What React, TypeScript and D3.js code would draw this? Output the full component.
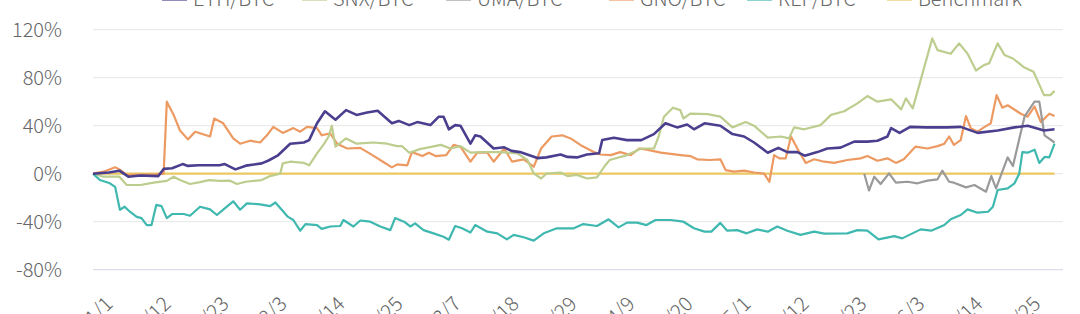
import React from "react";
import * as d3 from "d3";

type Pt = [number, number];

// day offset from 2020-01-01, value in %
const ethBtc: Pt[] = [[0,0],[3,1],[5,2.5],[6.7,-2.5],[9,-1.5],[12.4,-2],[13.4,4],[15,4.5],[17,8],[18,6.5],[20,7],[24,7],[25,8],[27,3.6],[29,6.7],[32,8.6],[33.3,11],[35,15],[37.4,25],[40,26],[41,28],[42.5,42],[44,52],[46,45],[48,53],[50,49],[52,51],[54,52.5],[56.7,42],[58,44],[60,40.5],[61.5,43],[64,40.5],[65.6,47.5],[66.5,47.5],[67.5,37],[68.7,40.5],[69.7,40],[71.6,25],[72.5,32],[73.5,31],[76,21],[78,22],[79.4,19],[81,18],[84.3,13],[86,13.6],[88.7,16],[90,14],[91.8,13.6],[93.7,16],[96,17],[96.6,28],[98.8,30],[101.3,28],[104,28],[106.4,33],[108.6,42],[110.8,38.6],[112.7,41],[114,37],[116,42],[119,40],[121.3,33],[123.5,31],[125.4,26],[128,17.5],[130,21.5],[131.7,18],[133.6,18],[135,15],[137.4,18],[139.3,21],[141.8,21.7],[144.4,26.7],[146.9,26.7],[148.8,27.5],[150.7,31],[151.4,38],[153,34],[155,39],[158,38.6],[162,38.6],[164.6,39],[167.8,34],[171.6,36],[174.8,38.6],[177.3,40],[180.4,36],[182.4,37]];

const snxBtc: Pt[] = [[0,0],[2,-2.5],[5,-2.5],[6.4,-9.4],[9,-9.4],[11.5,-7.5],[14,-6],[15.3,-2.5],[16.5,-5.3],[18.4,-8.6],[20.3,-7],[22,-5.3],[24,-6],[26,-5.8],[27.3,-8.6],[29,-6.7],[32,-5.3],[33.6,-2],[35.5,0],[36,8.6],[37.4,10],[40,9],[41,7],[42.5,17],[43.7,24],[44.7,31],[45.3,40],[46,22.5],[48,29.4],[50,25],[53.2,26],[55.8,25],[57.7,23],[58.6,23],[60,17.5],[62,20.5],[66,24],[67.8,21],[69.7,23],[71.6,17.5],[73.5,18],[77.3,18],[80.5,17],[82.4,11.4],[83.6,0.3],[85,-4],[86,0],[88.7,1],[90,-2],[91.8,-1],[93.7,-4],[95.6,-3],[97,6],[98,11.4],[101.3,15.5],[104,21],[106.4,21],[107.3,31],[108.3,47.5],[110,55],[111.4,53],[112,46],[113.3,50],[116.6,49.7],[119,47.5],[121.3,38.6],[123.8,43],[125.4,40],[128,30],[130.5,31],[132,29.4],[133,38.6],[134.9,37],[138,40.5],[140,49],[142.5,52],[145,58.6],[146.9,64.7],[148.8,60],[151.4,62],[153.3,53.6],[154.2,62.8],[155.5,54.4],[157,78],[159.2,112.8],[160.2,103],[162.7,100],[164.3,108.6],[165.9,100],[167.5,86],[169,90.5],[170,92],[171.6,108.6],[172.9,99],[174.5,96],[176.5,89],[178.4,85],[180.4,65.5],[181.6,65.5],[182.4,69]];

const umaBtc: Pt[] = [[146.3,0],[147.2,-14],[148.2,-2.5],[149.4,-8.6],[151,0.3],[152.3,-7.5],[154.5,-6.7],[156.4,-8],[158.3,-5.8],[160.2,-4.7],[161.1,2.5],[162.4,-6.7],[163.3,-7.5],[165.6,-11.4],[167.2,-9.4],[169.4,-15],[170.4,-2],[171.3,-12.2],[173.5,13.6],[174.5,6.4],[176.7,47.5],[178.6,60],[179.5,60],[180.5,32],[182.4,26]];

const gnoBtc: Pt[] = [[0,0],[2,1.7],[4.2,5.3],[5,3.6],[6.4,-1],[12,-0.5],[13.4,0],[14,60],[15.3,49],[16.5,36],[18,28.6],[19.4,35],[22.2,31],[23,46],[24.7,42],[26.6,29.4],[27.9,25],[29.8,27.5],[31.7,26],[33,32],[34.2,39],[36,34],[38,38],[39.3,35],[40.6,39],[42.5,38],[43.4,32],[45,33.6],[46.3,25],[48.2,21],[50.7,21.5],[53,15.5],[55,10],[56.7,5.3],[57.7,7.8],[59.6,7],[60.5,18],[62.5,14.7],[63.7,17.5],[65,14.7],[67,15.5],[68.4,24],[69.7,22.5],[71.6,10],[72.9,17.5],[74.8,17.5],[76,10],[78,21],[79.5,10],[81.7,12],[83.6,5.8],[85,21],[87,31],[89,32],[90.6,29.4],[92.8,23],[95,18],[96.3,16],[98.2,15.5],[100,18],[102,15.5],[103.6,21],[105,20],[107.7,17.5],[111.5,15.5],[113.3,14.7],[114.6,12],[117,11.4],[119,12],[120,3],[121.6,1.7],[123.5,2.5],[125.4,1],[127.3,0],[128.3,-6.7],[129.2,15.5],[130.2,12.8],[131.4,12.8],[132.4,31],[133.6,21],[135.2,9],[136.8,12],[138.7,10],[140.6,9],[143.1,11.4],[145.6,12.8],[146.9,14.7],[148.8,10.8],[150.7,12.8],[152.3,9],[153.8,12],[156,22.5],[158.3,21],[160.2,23],[161.5,25],[162.4,31],[163.3,24],[164.6,28],[165.6,48],[166.5,38],[167.8,35],[169,38.6],[170.3,42],[171.4,65.5],[172.5,55],[173.5,57],[176,50],[177.3,47.5],[178.6,56],[179.8,43],[181.4,50],[182.4,48]];

const repBtc: Pt[] = [[0,0],[1.3,-5.3],[3.2,-8],[4.2,-11],[5.1,-30],[6,-27.5],[7,-31.7],[8.3,-36],[9.2,-37],[10.2,-42.8],[11.1,-42.8],[12,-26],[13,-27],[14,-37],[15,-33.6],[17.2,-33.6],[18.4,-35],[20.3,-27.5],[22.2,-29.7],[23.5,-34.4],[24.7,-30],[26.6,-23],[27.9,-30],[29.2,-24.7],[31.7,-25.5],[33.6,-27],[34.6,-24],[37,-36],[38,-38.6],[39.3,-47.5],[40.3,-42],[42.5,-42.8],[43.4,-46],[45,-44],[46.9,-43.6],[47.5,-38.6],[49.4,-44],[50.7,-39],[52.6,-40],[54.5,-44],[56.4,-47],[57.3,-37],[59,-40],[60.2,-44],[61.1,-41.4],[62.7,-47],[64.6,-49.7],[66.5,-52.5],[67.5,-55],[68.7,-43.6],[70,-45.5],[71.6,-49],[72.5,-42.8],[74.8,-48.3],[76.7,-49.7],[78.5,-54.7],[79.8,-51],[81.7,-53],[83.6,-55.8],[85.5,-49.7],[88,-45.5],[91.2,-45.5],[93,-42],[95.6,-43.6],[97.8,-38],[99.7,-44.7],[101.3,-40.8],[103.2,-40.8],[105,-42.8],[106.7,-38.6],[109.6,-38.6],[112,-40],[114,-45.5],[116,-48.3],[117.3,-48.3],[119,-41],[120.3,-47.5],[122.2,-47],[124,-49.7],[126,-46.4],[128,-48.3],[129.8,-44],[131.7,-47.5],[134.2,-51],[136.8,-48.3],[138.7,-50],[143.1,-49.7],[145,-47],[146.9,-47.5],[149,-54.7],[152,-52],[153.5,-53.9],[157,-46.4],[159,-47.5],[161.5,-42.8],[162.7,-38],[164.6,-34.4],[165.9,-29.7],[167.8,-32.5],[169.8,-31.7],[170.7,-27.5],[171.6,-13.6],[173.5,-12.2],[174.8,-8],[175.7,0],[176.3,18],[177.3,17.5],[178.6,20],[179.5,9],[180.5,14],[181.4,13.6],[182.4,25]];

const benchmark: Pt[] = [[0,0],[182.4,0]];

const xLabels = ["1/1","1/12","1/23","2/3","2/14","2/25","3/7","3/18","3/29","4/9","4/20","5/1","5/12","5/23","6/3","6/14","6/25"];
const yTicks = [-80, -40, 0, 40, 80, 120];

const seriesNames = ["ETH/BTC", "SNX/BTC", "UMA/BTC", "GNO/BTC", "REP/BTC", "Benchmark"];
const seriesData = [ethBtc, snxBtc, umaBtc, gnoBtc, repBtc, benchmark];
const seriesColors = ["#4a3f8f", "#bccd8e", "#9a9a9a", "#ec9a62", "#3fb8b0", "#ebc962"];
const seriesWidths = [2.6, 2.2, 2.2, 2.2, 2.2, 2.2];
const legendX = [193, 333, 477, 640, 778, 918];

const W = 1080, H = 314;
const FONT = "'Noto Sans CJK SC', 'Noto Sans', sans-serif";

export default function App() {
  const x = d3.scaleLinear().domain([0, 184]).range([93, 1063]);
  const y = d3.scaleLinear().domain([-80, 120]).range([269.7, 29.7]);
  const start = new Date(2020, 0, 1);
  const parse = (s: string) => {
    const [m, d] = s.split("/").map(Number);
    return d3.timeDay.count(start, new Date(2020, m - 1, d));
  };
  const line = d3.line<Pt>().x(p => x(p[0])).y(p => y(p[1]));
  const drawOrder = [5, 3, 1, 2, 4, 0];

  return (
    <svg width={W} height={H} style={{ position: "absolute", left: 0, top: 0, background: "#fff" }} fontFamily={FONT}>
      <rect x={0} y={0} width={W} height={H} fill="#fff" />
      {yTicks.map(t => (
        <g key={t}>
          <line x1={x(0)} x2={x(184)} y1={y(t)} y2={y(t)} stroke={t === -80 ? "#d4d4e6" : "#e6e6e6"} strokeWidth={1} />
          <text x={62} y={y(t)} dy="0.36em" textAnchor="end" fontSize={20} fontWeight={300} fill="#666">{t}%</text>
        </g>
      ))}
      {xLabels.map(l => {
        const tx = x(parse(l)) + 16;
        const ty = 300;
        return (
          <text key={l} x={tx} y={ty} dy="0.36em" textAnchor="end" fontSize={20} fontWeight={300} fill="#666"
            transform={`rotate(-45, ${tx}, ${ty})`}>{l}</text>
        );
      })}
      {drawOrder.map(i => (
        <path key={seriesNames[i]} d={line(seriesData[i]) || ""} fill="none" stroke={seriesColors[i]}
          strokeWidth={seriesWidths[i]} strokeLinejoin="round" />
      ))}
      {seriesNames.map((n, i) => (
        <g key={n}>
          <line x1={legendX[i] - 31} x2={legendX[i] - 6} y1={0} y2={0} stroke={seriesColors[i]} strokeWidth={2} opacity={0.6} />
          <text x={legendX[i]} y={6} fontSize={20} fontWeight={300} fill="#666">{n}</text>
        </g>
      ))}
    </svg>
  );
}
